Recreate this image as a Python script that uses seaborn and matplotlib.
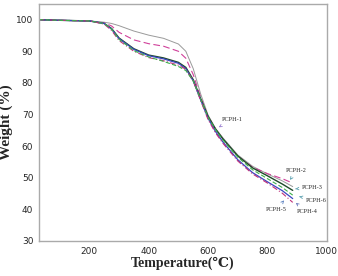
import matplotlib
matplotlib.use('Agg')
import matplotlib.pyplot as plt
import pandas as pd
import seaborn as sns

temps = [30, 100, 200, 250, 275, 300, 350, 400, 450, 500, 525, 550, 575, 600, 625, 650, 700, 750, 800, 850, 885]
pcph1 = [100, 99.8, 99.6, 99.2, 98.8, 98.1, 96.4, 95.1, 94.1, 92.3, 90.0, 84.5, 76.5, 69.8, 65.6, 62.6, 57.2, 53.6, 51.2, 49.0, 47.2]
pcph2 = [100, 99.8, 99.6, 99.0, 98.0, 96.0, 93.6, 92.4, 91.6, 90.0, 87.8, 82.6, 75.5, 69.4, 65.4, 62.2, 56.8, 53.3, 51.3, 49.7, 48.3]
pcph3 = [100, 99.8, 99.6, 98.8, 97.2, 94.2, 90.8, 88.8, 87.9, 86.5, 84.9, 81.0, 75.0, 69.4, 65.4, 62.3, 56.9, 53.1, 50.6, 48.0, 46.0]
pcph4 = [100, 99.8, 99.6, 98.8, 97.0, 94.0, 90.6, 88.6, 87.6, 86.2, 84.5, 80.6, 74.6, 68.8, 64.6, 61.3, 55.7, 51.6, 48.7, 45.9, 43.4]
pcph5 = [100, 99.8, 99.6, 98.6, 96.6, 93.4, 90.0, 88.0, 87.0, 85.6, 84.3, 80.6, 74.4, 68.4, 64.2, 60.9, 55.3, 51.2, 48.3, 45.1, 42.2]
pcph6 = [100, 99.8, 99.6, 98.8, 97.0, 93.8, 90.2, 88.2, 86.8, 85.2, 83.9, 80.6, 74.8, 69.2, 65.2, 61.9, 56.5, 52.5, 49.7, 46.9, 44.5]
names = ['PCPH-1', 'PCPH-2', 'PCPH-3', 'PCPH-4', 'PCPH-5', 'PCPH-6']
series = [pcph1, pcph2, pcph3, pcph4, pcph5, pcph6]

# label positions (text, arrow tip) in data coords
lab_xy = {'PCPH-1': (645, 68.5), 'PCPH-2': (862, 52.3), 'PCPH-3': (915, 46.9),
          'PCPH-6': (930, 42.9), 'PCPH-4': (898, 39.2), 'PCPH-5': (795, 40.0)}
tip_xy = {'PCPH-1': (628, 65.5), 'PCPH-2': (876, 49.3), 'PCPH-3': (885, 46.4),
          'PCPH-6': (898, 44.2), 'PCPH-4': (888, 42.6), 'PCPH-5': (862, 43.5)}

rows = []
for n, s in zip(names, series):
    for t, w in zip(temps, s):
        rows.append({'T': t, 'W': w, 'sample': n})
df = pd.DataFrame(rows)

sns.set_style('white')
fig = plt.figure(figsize=(3.38, 2.76), dpi=100)
ax = fig.add_axes([0.115, 0.127, 0.852, 0.859])

colors = {'PCPH-1': '#9a9a9a', 'PCPH-2': '#d0409a', 'PCPH-3': '#1e4a2a',
          'PCPH-4': '#3a46c0', 'PCPH-5': '#c0307a', 'PCPH-6': '#3cb04a'}
dashes = {'PCPH-1': '', 'PCPH-2': (6, 3), 'PCPH-3': '', 'PCPH-4': '',
          'PCPH-5': (5, 2, 1, 2), 'PCPH-6': (4, 2)}
widths = {'PCPH-1': 0.7, 'PCPH-2': 0.8, 'PCPH-3': 1.0, 'PCPH-4': 0.9, 'PCPH-5': 0.8, 'PCPH-6': 0.8}

for n in names:
    sub = df[df['sample'] == n]
    sns.lineplot(data=sub, x='T', y='W', ax=ax, color=colors[n], lw=widths[n],
                 dashes=False, legend=False, estimator=None)
    ln = ax.lines[-1]
    if dashes[n]:
        ln.set_dashes(dashes[n])

arrow_col = {'PCPH-1': '#9a7fd0', 'PCPH-2': '#5aa0b0', 'PCPH-3': '#5aa0b0',
             'PCPH-6': '#5aa0b0', 'PCPH-4': '#7080c0', 'PCPH-5': '#5a80c0'}
for n in names:
    ax.annotate(n, xy=tip_xy[n], xytext=lab_xy[n], fontsize=4.5,
                family=['Liberation Serif', 'DejaVu Serif'], ha='left', va='center',
                arrowprops=dict(arrowstyle='->', color=arrow_col[n], lw=0.6))

ax.set_xlim(30, 1000)
ax.set_ylim(30, 105)
ax.set_xticks([200, 400, 600, 800, 1000])
ax.set_yticks([30, 40, 50, 60, 70, 80, 90, 100])
ax.tick_params(labelsize=6.5, length=2, direction='out', color='#888888', pad=2)
for sp in ax.spines.values():
    sp.set_color('#aaaaaa')
    sp.set_linewidth(1.0)
ax.set_xlabel('Temperature(℃)', fontsize=10, fontweight='bold',
              family=['Liberation Serif', 'DejaVu Serif'], labelpad=1)
ax.set_ylabel('Weight (%)', fontsize=11, fontweight='bold',
              family=['Liberation Serif', 'DejaVu Serif'], labelpad=2)

fig.savefig('out.png', dpi=100)
